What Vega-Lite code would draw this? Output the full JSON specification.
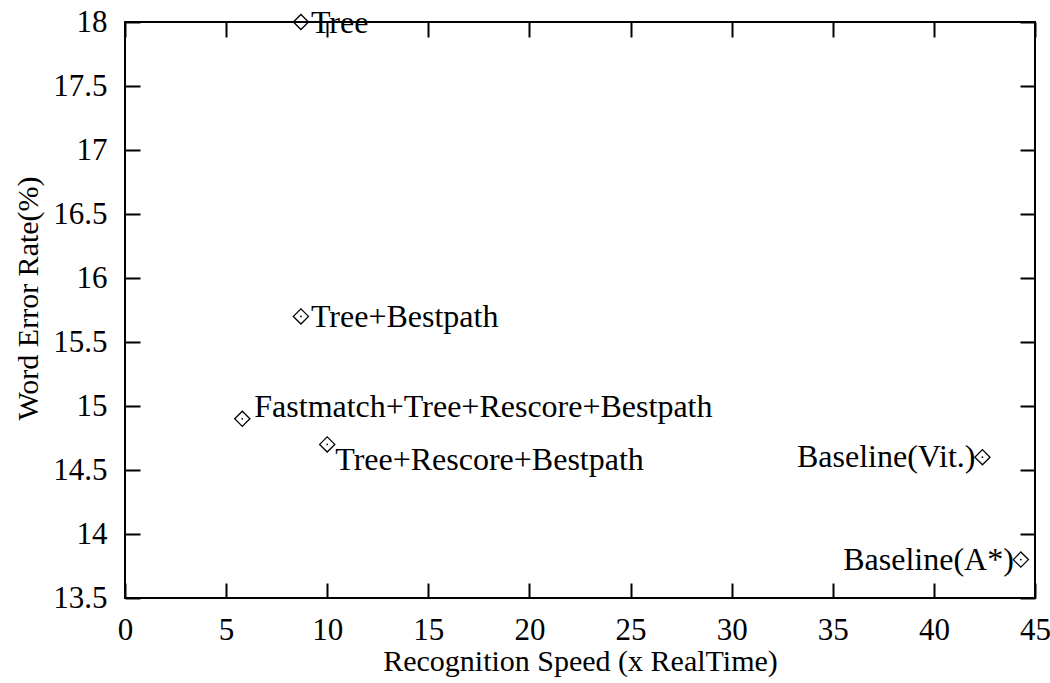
{
  "$schema": "https://vega.github.io/schema/vega-lite/v6.json",
  "autosize": {"type": "none"},
  "width": 910,
  "height": 576,
  "padding": {"left": 125, "top": 22, "right": 15, "bottom": 85},
  "background": "white",
  "config": {
    "font": "Liberation Serif",
    "view": {"stroke": "black", "strokeWidth": 2},
    "axis": {
      "domain": false,
      "grid": false,
      "ticks": true,
      "tickColor": "black",
      "tickWidth": 2,
      "labelFlush": false,
      "labelOverlap": false,
      "labelFont": "Liberation Serif",
      "titleFont": "Liberation Serif",
      "labelFontSize": 31,
      "titleFontSize": 30,
      "labelColor": "black",
      "titleColor": "black",
      "titleFontWeight": "normal"
    }
  },
  "data": {"values": [
    {"speed": 8.7, "wer": 18.0, "label": "Tree"},
    {"speed": 8.7, "wer": 15.7, "label": "Tree+Bestpath"},
    {"speed": 5.8, "wer": 14.9, "label": "Fastmatch+Tree+Rescore+Bestpath"},
    {"speed": 10.0, "wer": 14.7, "label": "Tree+Rescore+Bestpath"},
    {"speed": 42.4, "wer": 14.6, "label": "Baseline(Vit.)"},
    {"speed": 44.3, "wer": 13.8, "label": "Baseline(A*)"}
  ]},
  "resolve": {"axis": {"x": "independent", "y": "independent"}},
  "layer": [
    {
      "mark": {"type": "point", "shape": "diamond", "size": 230, "stroke": "black", "strokeWidth": 1.3, "filled": false, "opacity": 1, "clip": false},
      "encoding": {
        "x": {"field": "speed", "type": "quantitative", "scale": {"domain": [0, 45], "nice": false, "zero": false},
          "axis": {"orient": "bottom", "values": [0,5,10,15,20,25,30,35,40,45], "format": "~g", "tickSize": -15, "labelPadding": 32, "labelFontSize": 31, "labelFont": "Liberation Serif", "titleFontSize": 30, "titleFont": "Liberation Serif", "title": "Recognition Speed (x RealTime)", "titlePadding": 1}},
        "y": {"field": "wer", "type": "quantitative", "scale": {"domain": [13.5, 18], "nice": false, "zero": false},
          "axis": {"orient": "left", "values": [13.5,14,14.5,15,15.5,16,16.5,17,17.5,18], "format": "~g", "tickSize": -15, "labelPadding": 33, "labelFontSize": 31, "labelFont": "Liberation Serif", "titleFontSize": 30, "titleFont": "Liberation Serif", "title": "Word Error Rate(%)", "titlePadding": 9, "titleY": 276}}
      }
    },
    {
      "mark": {"type": "point", "shape": "circle", "size": 3, "filled": true, "color": "black", "opacity": 1},
      "encoding": {
        "x": {"field": "speed", "type": "quantitative", "axis": {"orient": "top", "values": [0,5,10,15,20,25,30,35,40,45], "tickSize": -15, "labels": false, "title": null}},
        "y": {"field": "wer", "type": "quantitative", "axis": {"orient": "right", "values": [13.5,14,14.5,15,15.5,16,16.5,17,17.5,18], "tickSize": -15, "labels": false, "title": null}}
      }
    },
    {
      "transform": [{"filter": "datum.label === 'Tree' || datum.label === 'Tree+Bestpath'"}],
      "mark": {"type": "text", "align": "left", "baseline": "middle", "dx": 10, "dy": 1, "fontSize": 32, "font": "Liberation Serif", "color": "black", "clip": false},
      "encoding": {
        "x": {"field": "speed", "type": "quantitative", "axis": null},
        "y": {"field": "wer", "type": "quantitative", "axis": null},
        "text": {"field": "label"}
      }
    },
    {
      "transform": [{"filter": "datum.label === 'Fastmatch+Tree+Rescore+Bestpath'"}],
      "mark": {"type": "text", "align": "left", "baseline": "middle", "dx": 12, "dy": -12, "fontSize": 32, "font": "Liberation Serif", "color": "black"},
      "encoding": {
        "x": {"field": "speed", "type": "quantitative", "axis": null},
        "y": {"field": "wer", "type": "quantitative", "axis": null},
        "text": {"field": "label"}
      }
    },
    {
      "transform": [{"filter": "datum.label === 'Tree+Rescore+Bestpath'"}],
      "mark": {"type": "text", "align": "left", "baseline": "middle", "dx": 8, "dy": 16, "fontSize": 32, "font": "Liberation Serif", "color": "black"},
      "encoding": {
        "x": {"field": "speed", "type": "quantitative", "axis": null},
        "y": {"field": "wer", "type": "quantitative", "axis": null},
        "text": {"field": "label"}
      }
    },
    {
      "transform": [{"filter": "datum.label === 'Baseline(Vit.)' || datum.label === 'Baseline(A*)'"}],
      "mark": {"type": "text", "align": "right", "baseline": "middle", "dx": -7, "dy": 0, "fontSize": 32, "font": "Liberation Serif", "color": "black"},
      "encoding": {
        "x": {"field": "speed", "type": "quantitative", "axis": null},
        "y": {"field": "wer", "type": "quantitative", "axis": null},
        "text": {"field": "label"}
      }
    }
  ]
}
